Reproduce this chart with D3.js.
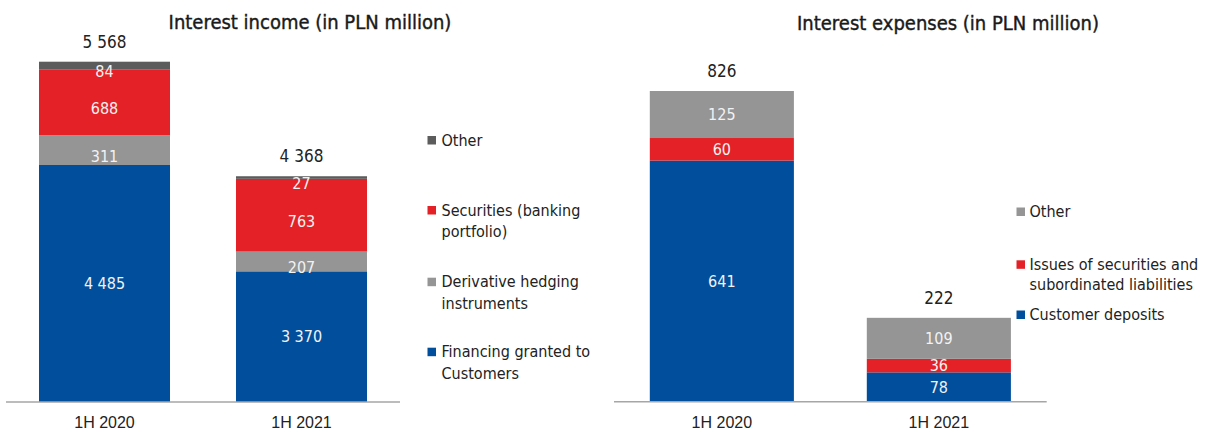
<!DOCTYPE html>
<html>
<head>
<meta charset="utf-8">
<script src="https://cdn.jsdelivr.net/npm/d3@7"></script>
<style>
  html, body { margin: 0; padding: 0; background: #fff; }
  svg { display: block; font-family: "DejaVu Sans Condensed", "Liberation Sans Narrow", "Open Sans", sans-serif; }
</style>
</head>
<body>
<svg id="chart" width="1206" height="433"></svg>
<script>
// Periods shown on both panels
const periods = ["1H 2020", "1H 2021"];

// Interest income components (PLN million), bottom to top
const incomeSeries = ["Financing granted to Customers", "Derivative hedging instruments", "Securities (banking portfolio)", "Other"];
const incomeFinancing = [4485, 3370];
const incomeDerivative = [311, 207];
const incomeSecurities = [688, 763];
const incomeOther = [84, 27];
const incomeTotals = [5568, 4368];

// Interest expense components (PLN million), bottom to top
const expenseSeries = ["Customer deposits", "Issues of securities and subordinated liabilities", "Other"];
const expenseDeposits = [641, 78];
const expenseIssues = [60, 36];
const expenseOther = [125, 109];
const expenseTotals = [826, 222];

const fmt = v => d3.format(",")(v).replace(/,/g, " ");
const svg = d3.select("#chart");

function drawPanel(cfg) {
  const rows = periods.map((p, i) => {
    const r = { period: p };
    cfg.series.forEach((s, k) => { r[s] = cfg.values[k][i]; });
    return r;
  });
  const stack = d3.stack().keys(cfg.series)(rows);

  const x = d3.scaleBand().domain(periods).range(cfg.xRange)
    .paddingInner(cfg.padInner).paddingOuter(cfg.padOuter);
  const y = d3.scaleLinear().domain(cfg.yDomain).range(cfg.yRange).clamp(true);
  const color = d3.scaleOrdinal().domain(cfg.series).range(cfg.colors);

  const g = svg.append("g");

  // stacked segments
  const layer = g.selectAll("g.layer").data(stack).join("g")
    .attr("fill", d => color(d.key));
  layer.selectAll("rect").data(d => d).join("rect")
    .attr("x", d => x(d.data.period))
    .attr("width", x.bandwidth())
    .attr("y", d => y(d[1]))
    .attr("height", d => y(d[0]) - y(d[1]));

  // value labels inside segments
  stack.forEach((s, k) => {
    g.selectAll(null).data(s).join("text")
      .attr("x", d => x(d.data.period) + x.bandwidth() / 2)
      .attr("y", d => (y(d[0]) + y(d[1])) / 2 + (k > 0 ? cfg.upperLabelShift : 0))
      .attr("dy", "0.35em")
      .attr("text-anchor", "middle")
      .attr("fill", "#f2f2f2")
      .attr("font-size", 16)
      .text(d => fmt(d[1] - d[0]));
  });

  // totals above bars
  g.selectAll("text.total").data(periods).join("text")
    .attr("class", "total")
    .attr("x", p => x(p) + x.bandwidth() / 2)
    .attr("y", (p, i) => y(cfg.totals[i]) - 20)
    .attr("dy", "0.35em")
    .attr("text-anchor", "middle")
    .attr("fill", "#222")
    .attr("font-size", 17)
    .text((p, i) => fmt(cfg.totals[i]));

  // category axis
  const axis = g.append("g")
    .attr("transform", `translate(0,${cfg.yRange[0]})`)
    .call(d3.axisBottom(x).tickSize(0).tickPadding(15));
  axis.select(".domain").attr("stroke", "#a6a6a6").attr("stroke-width", 1.5)
    .attr("d", `M${cfg.axisExtent[0]},0H${cfg.axisExtent[1]}`);
  axis.selectAll("text").attr("font-size", 16).attr("fill", "#222")
    .style("font-family", "inherit");

  // title
  g.append("text")
    .attr("x", cfg.titleX).attr("y", cfg.titleY)
    .attr("text-anchor", "middle")
    .attr("dy", "0.35em")
    .attr("font-size", 20)
    .attr("fill", "#1a1a1a")
    .attr("stroke", "#1a1a1a")
    .attr("stroke-width", 0.4)
    .text(cfg.title);

  // legend, top entry is the last stacked series
  const legend = g.append("g");
  cfg.legend.forEach(item => {
    const it = legend.append("g");
    it.append("rect")
      .attr("x", cfg.legendX).attr("y", item.y - 4)
      .attr("width", 8.5).attr("height", 8.5)
      .attr("fill", color(item.key));
    const t = it.append("text")
      .attr("x", cfg.legendX + cfg.legendGap)
      .attr("y", item.y)
      .attr("font-size", 16)
      .attr("fill", "#222");
    item.lines.forEach((ln, j) => {
      t.append("tspan").attr("x", cfg.legendX + cfg.legendGap)
        .attr("dy", j === 0 ? "0.35em" : cfg.legendLine)
        .text(ln);
    });
  });
}

drawPanel({
  title: "Interest income (in PLN million)",
  titleX: 310, titleY: 22,
  series: incomeSeries,
  values: [incomeFinancing, incomeDerivative, incomeSecurities, incomeOther],
  totals: incomeTotals,
  colors: ["#004e9c", "#959595", "#e32126", "#5c5c5c"],
  xRange: [6, 400], padInner: 0.335, padOuter: 0.1675,
  yDomain: [2000, 5568], yRange: [402, 61.7],
  axisExtent: [6, 400],
  upperLabelShift: 6,
  legendX: 427.5, legendGap: 14, legendLine: 21.7,
  legend: [
    { key: "Other", y: 140, lines: ["Other"] },
    { key: "Securities (banking portfolio)", y: 210, lines: ["Securities (banking", "portfolio)"] },
    { key: "Derivative hedging instruments", y: 281.7, lines: ["Derivative hedging", "instruments"] },
    { key: "Financing granted to Customers", y: 351.7, lines: ["Financing granted to", "Customers"] }
  ]
});

drawPanel({
  title: "Interest expenses (in PLN million)",
  titleX: 948, titleY: 23,
  series: expenseSeries,
  values: [expenseDeposits, expenseIssues, expenseOther],
  totals: expenseTotals,
  colors: ["#004e9c", "#e32126", "#959595"],
  xRange: [614, 1046.7], padInner: 0.336, padOuter: 0.165,
  yDomain: [0, 826], yRange: [401.7, 91],
  axisExtent: [614, 1046.7],
  upperLabelShift: 0,
  legendX: 1016.5, legendGap: 13, legendLine: 20,
  legend: [
    { key: "Other", y: 211.5, lines: ["Other"] },
    { key: "Issues of securities and subordinated liabilities", y: 264.3, lines: ["Issues of securities and", "subordinated liabilities"] },
    { key: "Customer deposits", y: 314.5, lines: ["Customer deposits"] }
  ]
});
</script>
</body>
</html>
